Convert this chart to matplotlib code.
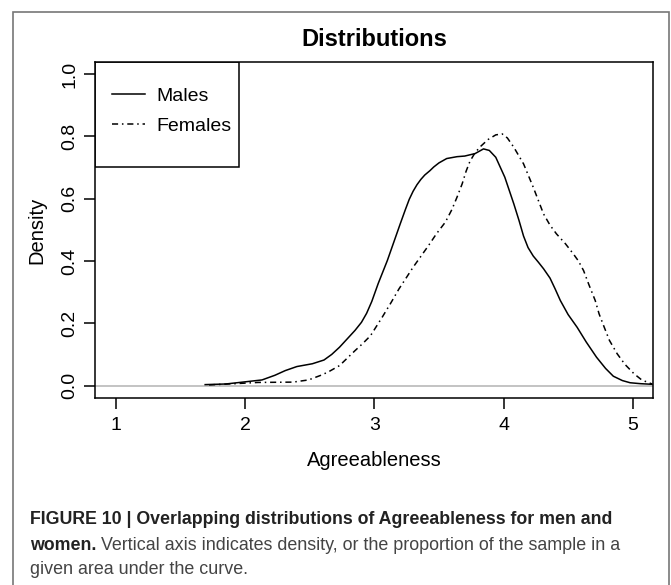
import numpy as np
import matplotlib.pyplot as plt
from matplotlib.patches import Rectangle

# density curves
male_x = [1.69, 1.85, 1.98, 2.13, 2.23, 2.31, 2.40, 2.52, 2.61, 2.67, 2.73, 2.79,
          2.85, 2.90, 2.94, 2.98, 3.03, 3.10, 3.15, 3.20, 3.24, 3.27, 3.30, 3.33, 3.36,
          3.39, 3.43, 3.46, 3.50, 3.56, 3.64, 3.70, 3.78, 3.845, 3.89, 3.94, 4.01,
          4.08, 4.12, 4.155, 4.19, 4.23, 4.27, 4.31, 4.36, 4.40, 4.44, 4.50, 4.57,
          4.64, 4.72, 4.79, 4.85, 4.92, 4.98, 5.06, 5.15]
male_y = [0.003, 0.005, 0.011, 0.018, 0.033, 0.048, 0.061, 0.070, 0.082, 0.100, 0.123, 0.150,
          0.177, 0.203, 0.232, 0.270, 0.328, 0.401, 0.460, 0.519, 0.565, 0.598, 0.624, 0.645, 0.662,
          0.676, 0.690, 0.702, 0.715, 0.729, 0.735, 0.737, 0.745, 0.760, 0.755, 0.733, 0.669,
          0.583, 0.530, 0.480, 0.443, 0.416, 0.396, 0.375, 0.345, 0.310, 0.273, 0.228, 0.187,
          0.140, 0.091, 0.055, 0.030, 0.016, 0.009, 0.006, 0.004]

female_x = [1.72, 1.92, 2.10, 2.37, 2.49, 2.58, 2.64, 2.73, 2.79, 2.85, 2.91, 2.97,
            3.06, 3.13, 3.19, 3.25, 3.30, 3.355, 3.42, 3.48, 3.55, 3.60, 3.64, 3.68,
            3.71, 3.74, 3.78, 3.82, 3.88, 3.94, 3.99, 4.03, 4.08, 4.155, 4.23, 4.31,
            4.36, 4.41, 4.48, 4.54, 4.58, 4.62, 4.66, 4.71, 4.74, 4.78, 4.82, 4.88,
            4.94, 5.01, 5.07, 5.15]
female_y = [0.002, 0.006, 0.010, 0.011, 0.018, 0.032, 0.043, 0.064, 0.088, 0.112, 0.135, 0.160,
            0.219, 0.267, 0.310, 0.348, 0.380, 0.412, 0.450, 0.487, 0.525, 0.565, 0.605, 0.648,
            0.688, 0.720, 0.748, 0.767, 0.790, 0.805, 0.808, 0.795, 0.765, 0.712, 0.637, 0.551,
            0.515, 0.487, 0.455, 0.423, 0.400, 0.369, 0.325, 0.273, 0.230, 0.187, 0.145, 0.102,
            0.068, 0.038, 0.018, 0.005]

x_ticks = [1, 2, 3, 4, 5]
y_ticks = [0.0, 0.2, 0.4, 0.6, 0.8, 1.0]
y_tick_labels = ["0.0", "0.2", "0.4", "0.6", "0.8", "1.0"]

plt.rcParams['font.family'] = ['Liberation Sans', 'DejaVu Sans']

W, H = 671, 585
fig = plt.figure(figsize=(W / 100, H / 100), dpi=100)
ax = fig.add_axes([95 / W, 1 - 398 / H, (652.7 - 95) / W, (398 - 61.7) / H])

ax.axhline(0, color='#bebebe', lw=1.3, zorder=1)
ax.plot(male_x, male_y, color='black', lw=1.1, label='Males')
ax.plot(female_x, female_y, color='black', lw=1.1,
        linestyle=(0, (4, 2.5, 1, 2.5)), label='Females')

ax.set_xlim(0.837, 5.155)
ax.set_ylim(-0.04, 1.04)
ax.set_xticks(x_ticks)
ax.set_yticks(y_ticks)
ax.set_yticklabels(y_tick_labels, rotation=90, va='center')
ax.tick_params(direction='out', length=8, width=1.1, labelsize=14, pad=4)
ax.tick_params(axis='x', pad=6)
for s in ax.spines.values():
    s.set_linewidth(1.1)

# legend box like R's legend()
ax.add_patch(Rectangle((0, 0.686), 0.2587, 0.314, transform=ax.transAxes,
                       fill=False, ec='black', lw=1.1, zorder=5))
ax.legend(loc='upper left', bbox_to_anchor=(0.030, 0.924), borderaxespad=0,
          borderpad=0, frameon=False, fontsize=14, handlelength=1.72,
          handletextpad=0.6, labelspacing=0.64)

fig.text(374 / W, 1 - 40 / H, "Distributions", fontsize=17, fontweight='bold',
         ha='center', va='center')
fig.text(374 / W, 1 - 460 / H, "Agreeableness", fontsize=14.5, ha='center', va='center')
fig.text(37 / W, 1 - 230 / H, "Density", fontsize=14.5, rotation=90,
         ha='center', va='center')

# caption
cap_size = 12.8
reg_size = 12.9
fig.text(30 / W, 1 - 520 / H,
         "FIGURE 10 | Overlapping distributions of Agreeableness for men and",
         fontsize=cap_size, fontweight='bold', va='center', color='#222222')
t = fig.text(30 / W, 1 - 545 / H, "women.", fontsize=cap_size, fontweight='bold',
             va='center', color='#222222')
fig.canvas.draw()
bb = t.get_window_extent()
fig.text(bb.x1 / W, 1 - 545 / H,
         " Vertical axis indicates density, or the proportion of the sample in a",
         fontsize=reg_size, va='center', color='#444444')
fig.text(30 / W, 1 - 570 / H, "given area under the curve.", fontsize=reg_size,
         va='center', color='#444444')

fig.patches.append(Rectangle((13 / W, -0.05), (669 - 13) / W, 1 - 12 / H + 0.05,
                             transform=fig.transFigure, fill=False, ec='#777777', lw=1.2))

fig.savefig("out.png", dpi=100)
